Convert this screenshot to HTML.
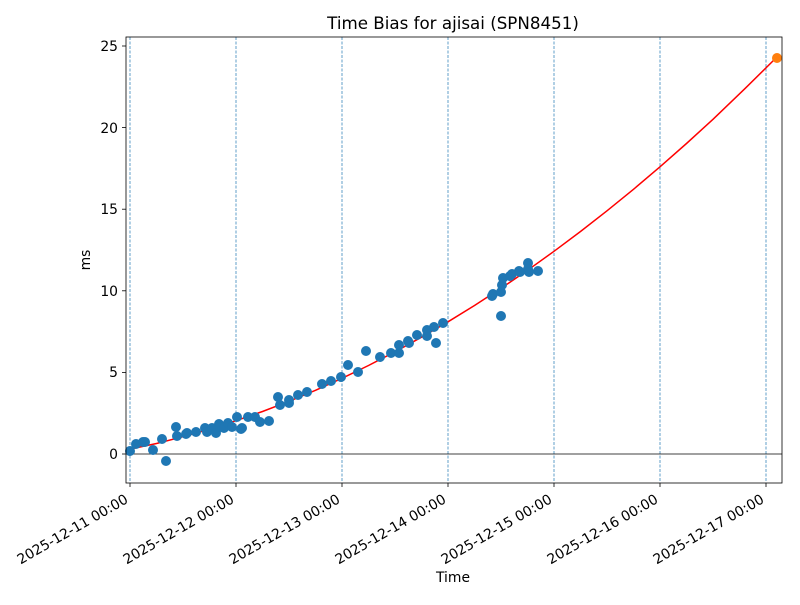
<!DOCTYPE html><html><head><style>body{margin:0;background:#fff}</style></head><body>
<svg width="800" height="600" xmlns="http://www.w3.org/2000/svg" font-family="DejaVu Sans, Liberation Sans, sans-serif">
<rect width="800" height="600" fill="#fff"/>
<g stroke="#1f77b4" stroke-width="0.7" stroke-dasharray="3,1.5">
<line x1="130" y1="37" x2="130" y2="483"/><line x1="236" y1="37" x2="236" y2="483"/><line x1="342" y1="37" x2="342" y2="483"/><line x1="448" y1="37" x2="448" y2="483"/><line x1="554" y1="37" x2="554" y2="483"/><line x1="660" y1="37" x2="660" y2="483"/><line x1="766" y1="37" x2="766" y2="483"/>
</g>
<line x1="126" y1="454" x2="782" y2="454" stroke="#000" stroke-width="0.8"/>
<polyline fill="none" stroke="red" stroke-width="1.5" stroke-linejoin="round" points="130,449.1 156.5,443.5 183,436.7 209.5,429.3 236,420.7 262.5,411.5 289,401.3 315.5,390.3 342,378.3 368.5,365.5 395,351.8 421.5,337.2 448,321.8 474.5,305.5 501,288.3 527.5,270.3 554,251.3 580.5,231.5 607,210.8 633.5,189.3 660,166.8 686.5,143.5 713,119.3 745,88.6 776.6,57.4"/>
<g fill="#1f77b4">
<circle cx="130" cy="451" r="5"/><circle cx="136" cy="444" r="5"/><circle cx="143" cy="442" r="5"/><circle cx="145" cy="442" r="5"/><circle cx="153" cy="450" r="5"/><circle cx="162" cy="439" r="5"/><circle cx="166" cy="461" r="5"/><circle cx="176" cy="427" r="5"/><circle cx="177" cy="436" r="5"/><circle cx="186" cy="434" r="5"/><circle cx="187" cy="433" r="5"/><circle cx="196" cy="432" r="5"/><circle cx="205" cy="428" r="5"/><circle cx="207" cy="432" r="5"/><circle cx="212" cy="428" r="5"/><circle cx="216" cy="433" r="5"/><circle cx="219" cy="424" r="5"/><circle cx="220" cy="427" r="5"/><circle cx="224" cy="428" r="5"/><circle cx="228" cy="423" r="5"/><circle cx="232" cy="427" r="5"/><circle cx="237" cy="417" r="5"/><circle cx="241" cy="429" r="5"/><circle cx="242" cy="428" r="5"/><circle cx="248" cy="417" r="5"/><circle cx="255" cy="417" r="5"/><circle cx="260" cy="422" r="5"/><circle cx="269" cy="421" r="5"/><circle cx="278" cy="397" r="5"/><circle cx="280" cy="405" r="5"/><circle cx="289" cy="403" r="5"/><circle cx="289" cy="400" r="5"/><circle cx="298" cy="395" r="5"/><circle cx="307" cy="392" r="5"/><circle cx="322" cy="384" r="5"/><circle cx="331" cy="381" r="5"/><circle cx="341" cy="377" r="5"/><circle cx="348" cy="365" r="5"/><circle cx="358" cy="372" r="5"/><circle cx="366" cy="351" r="5"/><circle cx="380" cy="357" r="5"/><circle cx="391" cy="353" r="5"/><circle cx="399" cy="353" r="5"/><circle cx="399" cy="345" r="5"/><circle cx="408" cy="341" r="5"/><circle cx="409" cy="343" r="5"/><circle cx="417" cy="335" r="5"/><circle cx="427" cy="336" r="5"/><circle cx="427" cy="330" r="5"/><circle cx="434" cy="327" r="5"/><circle cx="436" cy="343" r="5"/><circle cx="443" cy="323" r="5"/>
<circle cx="492" cy="296" r="5"/><circle cx="493" cy="294" r="5"/><circle cx="501" cy="316" r="5"/><circle cx="501" cy="292" r="5"/><circle cx="502" cy="285" r="5"/><circle cx="503" cy="278" r="5"/><circle cx="510" cy="276" r="5"/><circle cx="512" cy="274" r="5"/><circle cx="519" cy="271" r="5"/><circle cx="520" cy="272" r="5"/><circle cx="528" cy="263" r="5"/><circle cx="528" cy="269" r="5"/><circle cx="529" cy="272" r="5"/><circle cx="538" cy="271" r="5"/>
</g>
<circle cx="777" cy="58" r="5" fill="#ff7f0e"/>
<rect x="126" y="37" width="656" height="446" fill="none" stroke="#000" stroke-width="0.8"/>
<g stroke="#000" stroke-width="0.8">
<line x1="122" y1="454" x2="126" y2="454"/><line x1="122" y1="372.4" x2="126" y2="372.4"/><line x1="122" y1="290.8" x2="126" y2="290.8"/><line x1="122" y1="209.2" x2="126" y2="209.2"/><line x1="122" y1="127.6" x2="126" y2="127.6"/><line x1="122" y1="46" x2="126" y2="46"/>
<line x1="130" y1="483" x2="130" y2="487"/><line x1="236" y1="483" x2="236" y2="487"/><line x1="342" y1="483" x2="342" y2="487"/><line x1="448" y1="483" x2="448" y2="487"/><line x1="554" y1="483" x2="554" y2="487"/><line x1="660" y1="483" x2="660" y2="487"/><line x1="766" y1="483" x2="766" y2="487"/>
</g>
<g font-size="13.9" text-anchor="end" fill="#000">
<text x="118" y="459">0</text><text x="118" y="377">5</text><text x="118" y="296">10</text><text x="118" y="214">15</text><text x="118" y="133">20</text><text x="118" y="51">25</text>
</g>
<g font-size="13.9" text-anchor="end" fill="#000">
<text transform="translate(129,502) rotate(-30)">2025-12-11 00:00</text>
<text transform="translate(235,502) rotate(-30)">2025-12-12 00:00</text>
<text transform="translate(341,502) rotate(-30)">2025-12-13 00:00</text>
<text transform="translate(447,502) rotate(-30)">2025-12-14 00:00</text>
<text transform="translate(553,502) rotate(-30)">2025-12-15 00:00</text>
<text transform="translate(659,502) rotate(-30)">2025-12-16 00:00</text>
<text transform="translate(765,502) rotate(-30)">2025-12-17 00:00</text>
</g>
<text x="453" y="29" font-size="16.7" text-anchor="middle">Time Bias for ajisai (SPN8451)</text>
<text x="453" y="582" font-size="13.9" text-anchor="middle">Time</text>
<text transform="translate(90,260) rotate(-90)" font-size="13.9" text-anchor="middle">ms</text>
</svg>
</body></html>
